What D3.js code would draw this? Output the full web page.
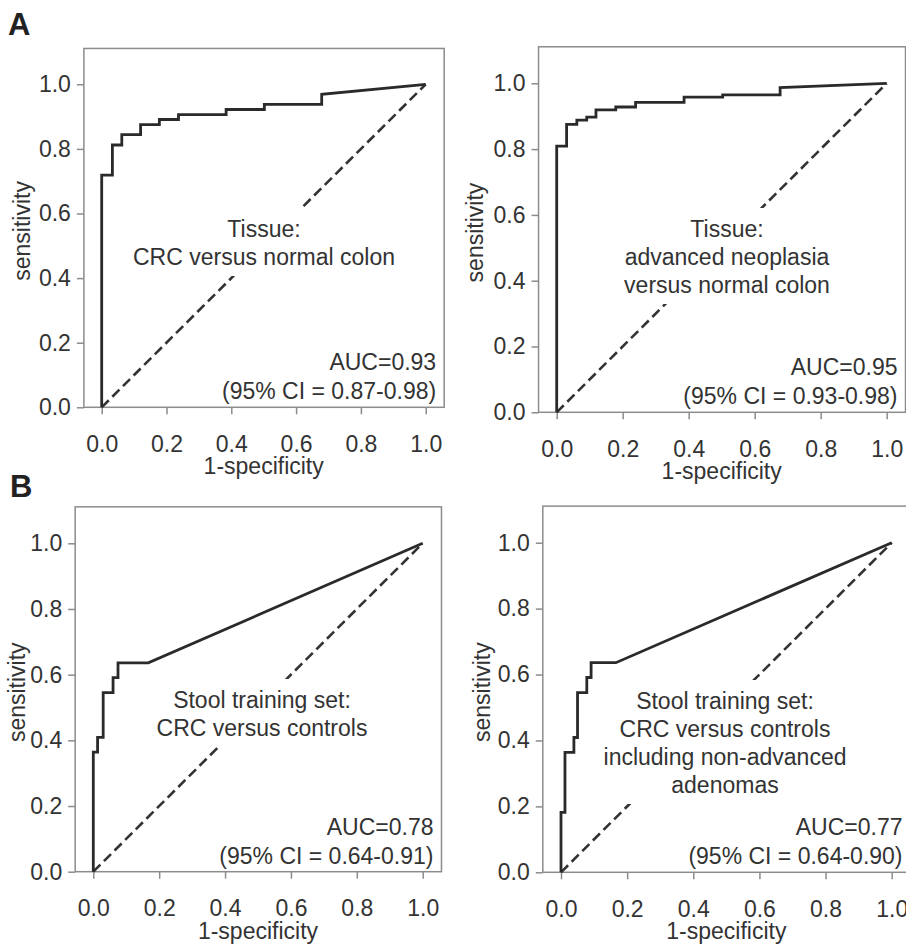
<!DOCTYPE html>
<html>
<head>
<meta charset="utf-8">
<script src="https://cdn.jsdelivr.net/npm/d3@7"></script>
<style>
  body { margin: 0; background: #fff; }
  text { font-family: "Liberation Sans", Arial, sans-serif; }
</style>
</head>
<body>
<script>
// ---- data ----
var tickValues = [0, 0.2, 0.4, 0.6, 0.8, 1.0];
var panelLetters = ["A", "B"];

// Tissue: CRC versus normal colon
var tissueCrcFpr = [0, 0, 0.033, 0.033, 0.062, 0.062, 0.120, 0.120, 0.178, 0.178, 0.237, 0.237, 0.384, 0.384, 0.502, 0.502, 0.679, 0.679, 1];
var tissueCrcTpr = [0, 0.719, 0.719, 0.812, 0.812, 0.844, 0.844, 0.875, 0.875, 0.891, 0.891, 0.906, 0.906, 0.922, 0.922, 0.938, 0.938, 0.969, 1];

// Tissue: advanced neoplasia versus normal colon
var tissueAdvFpr = [0, 0, 0.030, 0.030, 0.061, 0.061, 0.091, 0.091, 0.119, 0.119, 0.179, 0.179, 0.239, 0.239, 0.386, 0.386, 0.503, 0.503, 0.677, 0.677, 1];
var tissueAdvTpr = [0, 0.809, 0.809, 0.875, 0.875, 0.888, 0.888, 0.897, 0.897, 0.919, 0.919, 0.928, 0.928, 0.942, 0.942, 0.958, 0.958, 0.965, 0.965, 0.987, 1];

// Stool: CRC versus controls
var stoolCrcFpr = [0, 0, 0.013, 0.013, 0.030, 0.030, 0.060, 0.060, 0.075, 0.075, 0.167, 1];
var stoolCrcTpr = [0, 0.364, 0.364, 0.409, 0.409, 0.545, 0.545, 0.591, 0.591, 0.636, 0.636, 1];

// Stool: CRC versus controls incl. non-advanced adenomas
var stoolAllFpr = [0, 0, 0.012, 0.012, 0.039, 0.039, 0.050, 0.050, 0.078, 0.078, 0.091, 0.091, 0.166, 1];
var stoolAllTpr = [0, 0.182, 0.182, 0.364, 0.364, 0.409, 0.409, 0.545, 0.545, 0.591, 0.591, 0.636, 0.636, 1];

var labelLines = [
    ["Tissue:", "CRC versus normal colon"],
    ["Tissue:", "advanced neoplasia", "versus normal colon"],
    ["Stool training set:", "CRC versus controls"],
    ["Stool training set:", "CRC versus controls", "including non-advanced", "adenomas"]
];
var aucTexts = ["AUC=0.93", "AUC=0.95", "AUC=0.78", "AUC=0.77"];
var ciTexts = ["(95% CI = 0.87-0.98)", "(95% CI = 0.93-0.98)", "(95% CI = 0.64-0.91)", "(95% CI = 0.64-0.90)"];

// ---- layout (pixels) ----
var layout = [
    {x0: 101.7, x1: 425.7, y0: 407.3, y1: 84.3, sensX: 30,  annoX: 264, annoY: 237},
    {x0: 556.7, x1: 886.7, y0: 412.3, y1: 83.3, sensX: 483, annoX: 727, annoY: 237},
    {x0: 93.3,  x1: 422.7, y0: 871.7, y1: 543.3, sensX: 25, annoX: 262, annoY: 708},
    {x0: 561,   x1: 891.7, y0: 872.3, y1: 542.7, sensX: 490, annoX: 725, annoY: 709}
];
var letterPos = [{x: 8, y: 35}, {x: 10, y: 497}];

var fprs = [tissueCrcFpr, tissueAdvFpr, stoolCrcFpr, stoolAllFpr];
var tprs = [tissueCrcTpr, tissueAdvTpr, stoolCrcTpr, stoolAllTpr];

var fontSize = 23;
var textColor = "#333";
var frameColor = "#8c8c8c";

var svg = d3.select("body").append("svg")
    .attr("width", 906)
    .attr("height", 944);

svg.selectAll(".letter")
    .data(panelLetters)
    .enter()
    .append("text")
    .attr("class", "letter")
    .attr("x", (d, i) => letterPos[i].x)
    .attr("y", (d, i) => letterPos[i].y)
    .attr("font-size", "31px")
    .attr("font-weight", "bold")
    .attr("fill", "#222")
    .text(d => d);

layout.forEach(function(L, i) {
    var xScale = d3.scaleLinear().domain([0, 1]).range([L.x0, L.x1]);
    var yScale = d3.scaleLinear().domain([0, 1]).range([L.y0, L.y1]);

    var g = svg.append("g").attr("class", "panel");

    var fLeft = xScale(-0.055), fRight = xScale(1.057), fTop = yScale(1.111), fBottom = yScale(0);

    // frame
    g.append("rect")
        .attr("x", fLeft)
        .attr("y", fTop)
        .attr("width", fRight - fLeft)
        .attr("height", fBottom - fTop)
        .attr("fill", "none")
        .attr("stroke", frameColor)
        .attr("stroke-width", 1.5);

    // axes
    var yAxis = d3.axisLeft(yScale)
        .tickValues(tickValues)
        .tickFormat(d3.format(".1f"))
        .tickSize(7)
        .tickPadding(6);
    var xAxis = d3.axisBottom(xScale)
        .tickValues(tickValues)
        .tickFormat(d3.format(".1f"))
        .tickSize(7)
        .tickPadding(21);

    var ya = g.append("g")
        .attr("transform", "translate(" + fLeft + ",0)")
        .call(yAxis);
    var xa = g.append("g")
        .attr("transform", "translate(0," + fBottom + ")")
        .call(xAxis);

    [ya, xa].forEach(function(a) {
        a.select(".domain").remove();
        a.selectAll("line").attr("stroke", frameColor).attr("stroke-width", 1.5);
        a.selectAll("text")
            .attr("font-size", fontSize + "px")
            .attr("font-family", '"Liberation Sans", Arial, sans-serif')
            .attr("fill", textColor);
    });

    // axis titles
    g.append("text")
        .attr("transform", "translate(" + L.sensX + "," + ((fTop + fBottom) / 2 + 3) + ") rotate(-90)")
        .attr("text-anchor", "middle")
        .attr("font-size", fontSize + "px")
        .attr("fill", textColor)
        .text("sensitivity");

    g.append("text")
        .attr("x", xScale(0.5))
        .attr("y", fBottom + 67)
        .attr("text-anchor", "middle")
        .attr("font-size", fontSize + "px")
        .attr("fill", textColor)
        .text("1-specificity");

    // reference diagonal
    g.append("line")
        .attr("x1", xScale(0)).attr("y1", yScale(0))
        .attr("x2", xScale(1)).attr("y2", yScale(1))
        .attr("stroke", "#333")
        .attr("stroke-width", 2.6)
        .attr("stroke-dasharray", "10,5");

    // annotation with white background
    var mask = g.append("rect").attr("fill", "#fff");
    var anno = g.append("text")
        .attr("text-anchor", "middle")
        .attr("font-size", fontSize + "px")
        .attr("fill", textColor);
    anno.selectAll("tspan")
        .data(labelLines[i])
        .enter()
        .append("tspan")
        .attr("x", L.annoX)
        .attr("y", (d, k) => L.annoY + k * 28)
        .text(d => d);
    var bb = anno.node().getBBox();
    mask.attr("x", bb.x - 8).attr("y", bb.y - 8)
        .attr("width", bb.width + 16).attr("height", bb.height + 14);

    // AUC text
    g.append("text")
        .attr("x", fRight - 8)
        .attr("y", fBottom - 37)
        .attr("text-anchor", "end")
        .attr("font-size", fontSize + "px")
        .attr("fill", textColor)
        .text(aucTexts[i]);
    g.append("text")
        .attr("x", fRight - 8)
        .attr("y", fBottom - 8)
        .attr("text-anchor", "end")
        .attr("font-size", fontSize + "px")
        .attr("fill", textColor)
        .text(ciTexts[i]);

    // ROC curve
    var pts = fprs[i].map((f, k) => ({fpr: f, tpr: tprs[i][k]}));
    var line = d3.line()
        .x(d => xScale(d.fpr))
        .y(d => yScale(d.tpr));
    g.append("path")
        .attr("d", line(pts))
        .attr("fill", "none")
        .attr("stroke", "#2a2a2a")
        .attr("stroke-width", 2.8)
        .attr("stroke-linejoin", "miter");
});
</script>
</body>
</html>
